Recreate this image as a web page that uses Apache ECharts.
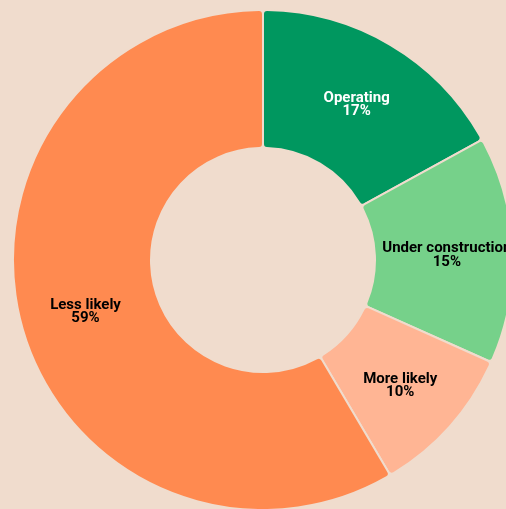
<!DOCTYPE html>
<html>
<head>
<meta charset="utf-8">
<script src="https://cdn.jsdelivr.net/npm/echarts@6/dist/echarts.min.js"></script>
<style>
html, body { margin: 0; padding: 0; background: #f0dccd; }
#main { width: 506px; height: 509px; }
</style>
</head>
<body>
<div id="main"></div>
<script>
var categories = ['Operating', 'Under construction', 'More likely', 'Less likely'];
var values = [17.0, 14.7, 9.8, 58.5];
var colors = ['#00975f', '#76d18a', '#ffb594', '#ff8a50'];
var labelColors = ['#ffffff', '#000000', '#000000', '#000000'];

var myChart = echarts.init(document.getElementById('main'));

var option = {
	backgroundColor: '#f0dccd',
	series: [{
		type: 'pie',
		center: [263, 260],
		radius: [112, 250],
		startAngle: 90,
		clockwise: true,
		avoidLabelOverlap: false,
		itemStyle: {
			borderColor: '#f0dccd',
			borderWidth: 2,
			borderRadius: 4
		},
		label: {
			show: true,
			position: 'inside',
			fontFamily: 'Roboto',
			fontWeight: 'bold',
			fontSize: 15,
			lineHeight: 13.5,
			offset: [0, 3],
			formatter: function (p) {
				return p.name + '\n' + Math.round(p.percent) + '%';
			}
		},
		labelLine: { show: false },
		emphasis: { disabled: true },
		data: categories.map(function (name, i) {
			return {
				name: name,
				value: values[i],
				itemStyle: { color: colors[i] },
				label: { color: labelColors[i] }
			};
		})
	}]
};
myChart.setOption(option);
</script>
</body>
</html>
